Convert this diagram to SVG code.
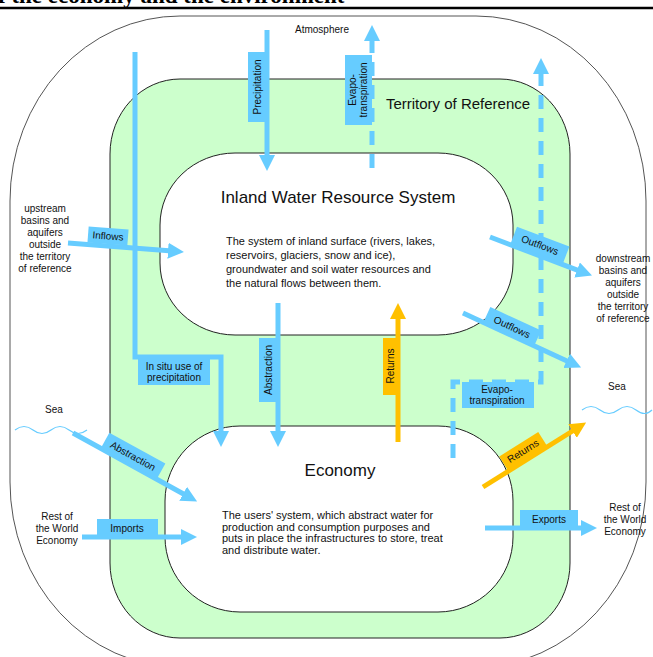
<svg xmlns="http://www.w3.org/2000/svg" width="653" height="657" viewBox="0 0 653 657">
<style>
.t{font-family:"Liberation Sans",Arial,sans-serif;fill:#111}
.s{font-size:10px}
.lab{font-size:10px;text-anchor:middle;dominant-baseline:central}
.b{stroke:#66ccff;stroke-width:5;fill:none}
.d{stroke:#66ccff;stroke-width:5;fill:none;stroke-dasharray:14 9}
.y{stroke:#ffc000;stroke-width:5;fill:none}
.bb{fill:#66ccff}
.yb{fill:#ffc000}
</style>
<defs>
<marker id="ab" viewBox="0 -8 16 16" refX="1" refY="0" markerWidth="16" markerHeight="16" markerUnits="userSpaceOnUse" orient="auto"><path d="M0,-8 L16,0 L0,8 z" fill="#66ccff"/></marker>
<marker id="ay" viewBox="0 -8 16 16" refX="1" refY="0" markerWidth="16" markerHeight="16" markerUnits="userSpaceOnUse" orient="auto"><path d="M0,-8 L16,0 L0,8 z" fill="#ffc000"/></marker>
</defs>
<rect width="653" height="657" fill="#fff"/>
<text x="-2" y="3" font-family="Liberation Serif,Times New Roman,serif" font-weight="bold" font-size="23" fill="#000">f the economy and the environment</text>
<line x1="0" y1="8" x2="653" y2="8" stroke="#000" stroke-width="2.5"/>

<g id="environment">
<rect x="10" y="16" width="636" height="651" rx="170" ry="185" fill="none" stroke="#555" stroke-width="1"/>
<text class="t" x="322" y="33" font-size="10" text-anchor="middle">Atmosphere</text>
</g>
<g id="territory">
<rect x="110" y="79" width="460" height="559" rx="70" ry="75" fill="#ccffcc" stroke="#222" stroke-width="1"/>
<text class="t" x="458" y="109" font-size="15" text-anchor="middle">Territory of Reference</text>
</g>
<g id="inland">
<rect x="160" y="153" width="353" height="182" rx="75" ry="72" fill="#fff" stroke="#222" stroke-width="1"/>
<text class="t" x="338" y="203" font-size="17" text-anchor="middle">Inland Water Resource System</text>
<text class="t" x="226" y="245" font-size="11"><tspan x="226">The system of inland surface (rivers, lakes,</tspan><tspan x="226" dy="14">reservoirs, glaciers, snow and ice),</tspan><tspan x="226" dy="14">groundwater and soil water resources and</tspan><tspan x="226" dy="14">the natural flows between them.</tspan></text>
</g>
<g id="economy">
<rect x="165" y="426" width="348" height="186" rx="75" ry="75" fill="#fff" stroke="#222" stroke-width="1"/>
<text class="t" x="340" y="476" font-size="17" text-anchor="middle">Economy</text>
<text class="t" x="222" y="519" font-size="11"><tspan x="222">The users' system, which abstract water for</tspan><tspan x="222" dy="11.7">production and consumption purposes and</tspan><tspan x="222" dy="11.7">puts in place the infrastructures to store, treat</tspan><tspan x="222" dy="11.7">and distribute water.</tspan></text>
</g>
<g id="upstream">
<text class="t s" text-anchor="middle"><tspan x="45" y="212">upstream</tspan><tspan x="45" dy="12">basins and</tspan><tspan x="45" dy="12">aquifers</tspan><tspan x="45" dy="12">outside</tspan><tspan x="45" dy="12">the territory</tspan><tspan x="45" dy="12">of reference</tspan></text>
</g>
<g id="downstream">
<text class="t s" text-anchor="middle"><tspan x="623" y="262">downstream</tspan><tspan x="623" dy="12">basins and</tspan><tspan x="623" dy="12">aquifers</tspan><tspan x="623" dy="12">outside</tspan><tspan x="623" dy="12">the territory</tspan><tspan x="623" dy="12">of reference</tspan></text>
</g>
<g id="sea-left">
<text class="t s" x="54" y="413" text-anchor="middle">Sea</text>
<path d="M15,430 q9,-7 18,0 t18,0 t18,0 t18,0" fill="none" stroke="#66ccff" stroke-width="1.2"/>
</g>
<g id="sea-right">
<text class="t s" x="617" y="390" text-anchor="middle">Sea</text>
<path d="M582,410 q9,-7 18,0 t18,0 t18,0 t16,0" fill="none" stroke="#66ccff" stroke-width="1.2"/>
</g>
<g id="row-left">
<text class="t s" text-anchor="middle"><tspan x="57" y="520">Rest of</tspan><tspan x="57" dy="12">the World</tspan><tspan x="57" dy="12">Economy</tspan></text>
</g>
<g id="row-right">
<text class="t s" text-anchor="middle"><tspan x="625" y="511">Rest of</tspan><tspan x="625" dy="12">the World</tspan><tspan x="625" dy="12">Economy</tspan></text>
</g>

<g id="connectors">
<!-- precipitation -->
<line class="b" x1="267" y1="30" x2="267" y2="156" marker-end="url(#ab)"/>
<rect class="bb" x="248" y="52" width="19" height="70"/>
<text class="t lab" transform="translate(257.5,87) rotate(-90)">Precipitation</text>
<!-- evapo top -->
<line class="d" x1="372" y1="168" x2="372" y2="40" marker-end="url(#ab)"/>
<rect class="bb" x="345" y="55" width="27" height="70"/>
<text class="t" font-size="10" text-anchor="middle" transform="translate(358,90) rotate(-90)"><tspan x="0" y="-2">Evapo-</tspan><tspan x="0" y="9">transpiration</tspan></text>
<!-- evapo right -->
<path class="d" d="M453,458 V382 H541 V73" marker-end="url(#ab)"/>
<rect class="bb" x="462" y="382" width="72" height="26"/>
<text class="t" font-size="10" text-anchor="middle"><tspan x="497" y="393">Evapo-</tspan><tspan x="497" y="404">transpiration</tspan></text>
<!-- in situ -->
<path class="b" d="M135,52 V357 H221 V432" marker-end="url(#ab)"/>
<rect class="bb" x="138" y="359" width="72" height="26"/>
<text class="t" font-size="10" text-anchor="middle"><tspan x="174" y="370">In situ use of</tspan><tspan x="174" y="381">precipitation</tspan></text>
<!-- abstraction vertical -->
<line class="b" x1="278" y1="303" x2="278" y2="432" marker-end="url(#ab)"/>
<rect class="bb" x="259" y="338" width="19" height="64"/>
<text class="t lab" transform="translate(268.5,370) rotate(-90)">Abstraction</text>
<!-- returns vertical -->
<line class="y" x1="398" y1="442" x2="398" y2="318" marker-end="url(#ay)"/>
<rect class="yb" x="383" y="338" width="15" height="57"/>
<text class="t lab" font-size="9" transform="translate(390.5,366) rotate(-90)">Returns</text>
<!-- inflows -->
<line class="b" x1="68" y1="243" x2="169" y2="250.8" marker-end="url(#ab)"/>
<g transform="translate(108,236) rotate(4.4)"><rect class="bb" x="-20" y="-8" width="40" height="16"/><text class="t lab">Inflows</text></g>
<!-- outflows 1 -->
<line class="b" x1="490" y1="237" x2="578" y2="270.3" marker-end="url(#ab)"/>
<g transform="translate(540,245) rotate(20.7)"><rect class="bb" x="-28" y="-9" width="56" height="18"/><text class="t lab">Outflows</text></g>
<!-- outflows 2 -->
<line class="b" x1="463" y1="313" x2="567.5" y2="361.3" marker-end="url(#ab)"/>
<g transform="translate(512,327) rotate(24.8)"><rect class="bb" x="-28" y="-9" width="56" height="18"/><text class="t lab">Outflows</text></g>
<!-- sea abstraction -->
<line class="b" x1="73" y1="433" x2="184" y2="494.3" marker-end="url(#ab)"/>
<g transform="translate(133,456) rotate(28.9)"><rect class="bb" x="-32" y="-9" width="64" height="18"/><text class="t lab">Abstraction</text></g>
<!-- imports -->
<line class="b" x1="82" y1="537" x2="182" y2="537" marker-end="url(#ab)"/>
<rect class="bb" x="97" y="519" width="61" height="17"/>
<text class="t lab" x="127" y="528">Imports</text>
<!-- exports -->
<line class="b" x1="485" y1="528" x2="582" y2="528" marker-end="url(#ab)"/>
<rect class="bb" x="520" y="510" width="58" height="17"/>
<text class="t lab" x="549" y="519">Exports</text>
<!-- returns diagonal -->
<line class="y" x1="483" y1="487" x2="573.4" y2="430.5" marker-end="url(#ay)"/>
<g transform="translate(523,451) rotate(-32)"><rect class="yb" x="-23" y="-8" width="46" height="16"/><text class="t lab" font-size="9">Returns</text></g>
</g>
</svg>
